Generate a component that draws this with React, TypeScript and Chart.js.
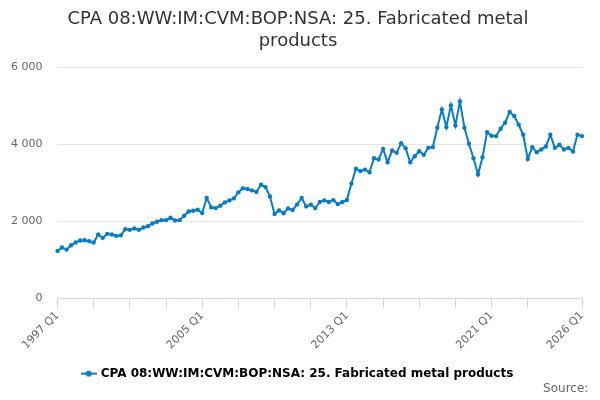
import { useEffect, useRef } from "react";
import { Chart, registerables } from "chart.js";

Chart.register(...registerables);

const TITLE = ["CPA 08:WW:IM:CVM:BOP:NSA: 25. Fabricated metal", "products"];
const SERIES_NAME = "CPA 08:WW:IM:CVM:BOP:NSA: 25. Fabricated metal products";
const COLOR = "#0a7dc2";

const FIRST_YEAR = 1997;
const LAST_YEAR = 2026;

// quarterly values, 1997 Q1 .. 2026 Q1
const values = [
  1226, 1313, 1260, 1374, 1443, 1496, 1505, 1478, 1443, 1652, 1565, 1670,
  1652, 1617, 1630, 1791, 1774, 1809, 1774, 1835, 1870, 1939, 1983, 2026,
  2026, 2087, 2017, 2026, 2139, 2252, 2270, 2296, 2209, 2600, 2357, 2339,
  2400, 2487, 2539, 2591, 2748, 2852, 2835, 2800, 2760, 2945, 2885, 2640,
  2183, 2280, 2205, 2330, 2290, 2435, 2600, 2383, 2430, 2339, 2496, 2539,
  2496, 2545, 2443, 2496, 2550, 2975, 3360, 3300, 3339, 3270, 3635, 3600,
  3878, 3530, 3835, 3774, 4026, 3896, 3530, 3687, 3817, 3722, 3904, 3922,
  4426, 4904, 4443, 5009, 4487, 5113, 4426, 4009, 3635, 3215, 3661, 4313,
  4217, 4209, 4400, 4557, 4835, 4730, 4504, 4243, 3617, 3922, 3791, 3861,
  3939, 4243, 3904, 3983, 3861, 3904, 3809, 4243, 4209,
];

const labels: string[] = [];
for (let y = FIRST_YEAR; y <= LAST_YEAR; y++) {
  for (let q = 1; q <= 4; q++) {
    if (y === LAST_YEAR && q > 1) break;
    labels.push(`${y} Q${q}`);
  }
}

const labelledTicks = ["1997 Q1", "2005 Q1", "2013 Q1", "2021 Q1", "2026 Q1"];
const yTicks = [0, 2000, 4000, 6000];

const FONT = "'DejaVu Sans', sans-serif";

function formatThousands(v: number) {
  return String(v).replace(/\B(?=(\d{3})+(?!\d))/g, " ");
}

function hasTickMark(i: number) {
  return (i % 8 === 0 && i <= labels.length - 8) || i === labels.length - 1;
}

function legendSymbol() {
  const c = document.createElement("canvas");
  c.width = 16;
  c.height = 10;
  const g = c.getContext("2d")!;
  g.strokeStyle = COLOR;
  g.lineWidth = 2;
  g.beginPath();
  g.moveTo(0, 5);
  g.lineTo(16, 5);
  g.stroke();
  g.fillStyle = COLOR;
  g.beginPath();
  g.arc(8, 5, 3, 0, Math.PI * 2);
  g.fill();
  return c;
}

export default function App() {
  const canvasRef = useRef<HTMLCanvasElement>(null);

  useEffect(() => {
    document.body.style.margin = "0";
    if (!canvasRef.current) return;
    const symbol = legendSymbol();

    const chart = new Chart(canvasRef.current, {
      type: "line",
      data: {
        labels,
        datasets: [
          {
            label: SERIES_NAME,
            data: values,
            borderColor: COLOR,
            backgroundColor: COLOR,
            borderWidth: 2,
            pointRadius: 2.2,
            pointBorderWidth: 0,
            pointBackgroundColor: COLOR,
            pointStyle: "circle",
            tension: 0,
          },
        ],
      },
      options: {
        responsive: false,
        animation: false,
        layout: { padding: { left: 0, right: 4, top: 0, bottom: 0 } },
        scales: {
          x: {
            afterFit: (scale) => {
              scale.height = 67.5;
            },
            grid: {
              drawOnChartArea: false,
              tickLength: 10,
              color: (ctx) => (hasTickMark(ctx.index) ? "#ccd6eb" : "rgba(0,0,0,0)"),
            },
            border: { color: "#ccd6eb" },
            ticks: {
              autoSkip: false,
              minRotation: 45,
              maxRotation: 45,
              padding: 1,
              color: "#666666",
              font: { family: FONT, size: 11 },
              callback: (_v, i) => (labelledTicks.includes(labels[i]) ? labels[i] : ""),
            },
          },
          y: {
            min: 0,
            max: 6000,
            afterBuildTicks: (scale) => {
              scale.ticks = yTicks.map((value) => ({ value }));
            },
            afterFit: (scale) => {
              scale.width = 57.5;
            },
            grid: { color: "#e6e6e6", drawTicks: false },
            border: { display: false },
            ticks: {
              padding: 15,
              color: "#666666",
              font: { family: FONT, size: 11 },
              callback: (v) => formatThousands(Number(v)),
            },
          },
          // empty right-hand gutter so the plot ends where the reference does
          gutter: {
            type: "linear",
            position: "right",
            display: true,
            grid: { display: false, drawTicks: false },
            border: { display: false },
            ticks: { display: false },
            afterFit: (scale) => {
              scale.width = 14;
            },
          },
        },
        plugins: {
          title: {
            display: true,
            text: TITLE,
            color: "#333333",
            font: { family: FONT, size: 18, weight: "normal", lineHeight: 1.2 },
            padding: { top: 9, bottom: 15 },
          },
          subtitle: {
            display: true,
            text: "Source:\u00a0\u00a0",
            position: "bottom",
            align: "end",
            color: "#666666",
            font: { family: FONT, size: 12, weight: "normal" },
            padding: { top: -8, bottom: 4 },
          },
          legend: {
            position: "bottom",
            labels: {
              usePointStyle: true,
              color: "#333333",
              font: { family: FONT, size: 12, weight: "bold" },
              padding: 2,
              generateLabels: () => [
                {
                  text: SERIES_NAME,
                  pointStyle: symbol,
                  fillStyle: COLOR,
                  strokeStyle: COLOR,
                  lineWidth: 0,
                  hidden: false,
                  datasetIndex: 0,
                },
              ],
            },
          },
          tooltip: { enabled: false },
        },
      },
    });

    return () => chart.destroy();
  }, []);

  return (
    <div style={{ width: 600, height: 400, background: "#fff" }}>
      <canvas ref={canvasRef} width={600} height={400} />
    </div>
  );
}
